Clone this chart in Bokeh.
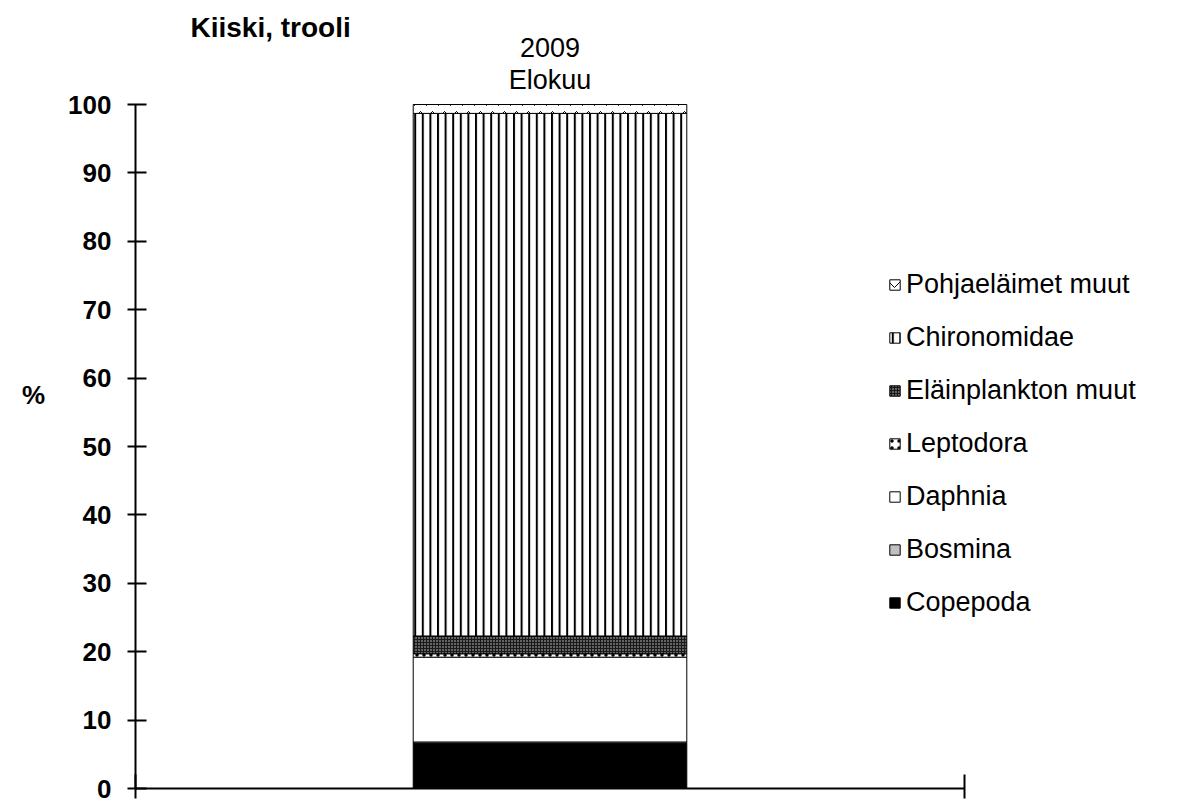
from bokeh.plotting import figure
from bokeh.models import (Range1d, LinearAxis, FixedTicker,
                          Legend, LegendItem, Label, ColumnDataSource)
from bokeh.core.properties import value
from bokeh.embed import file_html
from bokeh.resources import INLINE

# ---- data ----
period = ["2009\nElokuu"]
species = ["Copepoda", "Bosmina", "Daphnia", "Leptodora",
           "Eläinplankton muut", "Chironomidae", "Pohjaeläimet muut"]
copepoda = [6.6]
bosmina = [0.2]
daphnia = [12.4]
leptodora = [0.5]
elainplankton_muut = [2.6]
chironomidae = [76.4]
pohjaelaimet_muut = [1.3]
y_ticks = [0, 10, 20, 30, 40, 50, 60, 70, 80, 90, 100]
title_text = "Kiiski, trooli"
y_label = "%"

series = [copepoda, bosmina, daphnia, leptodora,
          elainplankton_muut, chironomidae, pohjaelaimet_muut]
# category slots: each category occupies one unit, centred at i + 0.5
xpos = [i + 0.5 for i in range(len(period))]
totals = [sum(vals) for vals in zip(*series)]

data = dict(x=xpos, total=totals, label=period)
for name, vals in zip(species, series):
    data[name] = vals
source = ColumnDataSource(data)

FONT = "Liberation Sans"

# layout geometry (pixels)
W, H = 1175, 803
LEFT, BOTTOM = 135, 15
AXIS_RIGHT_PX = 964      # right end of the category axis
Y100_PX = 104            # screen row of the 100 % tick
frame_w = W - LEFT
frame_h = H - BOTTOM
x_end = len(period) * frame_w / (AXIS_RIGHT_PX - LEFT)
y_end = 100 * frame_h / (H - BOTTOM - Y100_PX)

p = figure(width=W, height=H,
           x_range=Range1d(0, x_end),
           y_range=Range1d(0, y_end),
           output_backend="svg", toolbar_location=None,
           x_axis_location=None,
           min_border_left=LEFT, min_border_right=0,
           min_border_top=0, min_border_bottom=BOTTOM)
p.outline_line_color = None
p.xgrid.visible = False
p.ygrid.visible = False
p.background_fill_color = "white"
p.border_fill_color = "white"

# y axis
ya = p.yaxis[0]
ya.ticker = FixedTicker(ticks=y_ticks)
ya.bounds = (0, 100)
ya.minor_tick_line_color = None
ya.axis_line_width = 2
ya.axis_line_color = "black"
ya.major_tick_line_width = 2
ya.major_tick_line_color = "black"
ya.major_tick_in = 11
ya.major_tick_out = 8
ya.major_label_standoff = 16
ya.major_label_text_font = FONT
ya.major_label_text_font_style = "bold"
ya.major_label_text_font_size = "26px"
ya.major_label_text_color = "black"
ya.axis_label = y_label
ya.axis_label_orientation = "horizontal"
ya.axis_label_text_font = FONT
ya.axis_label_text_font_style = "bold"
ya.axis_label_text_font_size = "26px"
ya.axis_label_text_color = "black"
ya.axis_label_standoff = 20

# bottom axis with ticks at category boundaries
bounds = list(range(len(period) + 1))
bot = LinearAxis(ticker=FixedTicker(ticks=bounds), bounds=(0, len(period)),
                 major_label_overrides={b: "" for b in bounds})
bot.axis_line_width = 2
bot.axis_line_color = "black"
bot.major_tick_line_width = 2
bot.major_tick_line_color = "black"
bot.major_tick_in = 14
bot.major_tick_out = 10
bot.minor_tick_line_color = None
bot.major_label_text_font_size = "1px"
bot.major_label_standoff = 0
p.add_layout(bot, "below")

fills = ["black", "#c0c0c0", "white", "white", "#1a1a1a", "white", "white"]
hatches = [" ", " ", " ", "dot", "dot", "vertical_line", "horizontal_wave"]
hatch_colors = ["black", "black", "black", "black", "#cfcfcf", "black", "black"]
hatch_scales = [6, 6, 6, 7, 3, 7.6, 12]
hatch_weights = [1, 1, 1, 1.2, 1.0, 2.0, 1]

renderers = p.vbar_stack(species, x="x", width=0.33, source=source,
                         fill_color=fills, line_color="black", line_width=1,
                         hatch_pattern=hatches, hatch_color=hatch_colors,
                         hatch_scale=hatch_scales, hatch_weight=hatch_weights)

# category label above each bar
p.text(x="x", y="total", text="label", source=source,
       text_font=value(FONT), text_font_size="27px", text_color="black",
       text_align="center", text_baseline="bottom", text_line_height=1.05,
       y_offset=-10)

items = [LegendItem(label=name, renderers=[r]) for name, r in zip(species, renderers)]
items.reverse()
legend = Legend(items=items, location=(753, 170),
                label_text_font=FONT, label_text_font_size="27px",
                label_text_color="black",
                glyph_width=13, glyph_height=13, label_height=30,
                label_standoff=5, spacing=22, padding=0, margin=0,
                border_line_color=None, background_fill_alpha=0)
p.add_layout(legend, "center")

title = Label(x=55, y=761, x_units="screen", y_units="screen", text=title_text,
              text_font=FONT, text_font_style="bold", text_font_size="28px",
              text_color="black", text_baseline="alphabetic")
p.add_layout(title)

open("out.html", "w").write(file_html(p, INLINE))
